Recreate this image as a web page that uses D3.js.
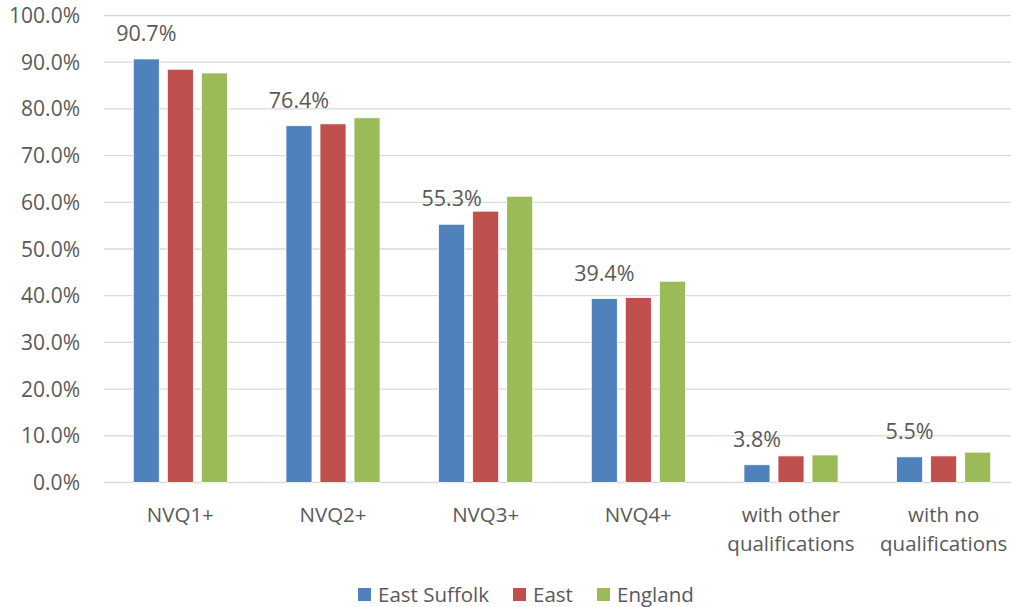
<!doctype html>
<html>
<head>
  <meta charset="utf-8">
  <style>
    body { margin: 0; background: #fff; }
    svg text { font-family: "Open Sans", "Liberation Sans", sans-serif; fill: #595959; }
    .grid line { stroke: #d9d9d9; stroke-width: 1.3; }
  </style>
</head>
<body>
<svg width="1011" height="607"></svg>
<script src="https://d3js.org/d3.v7.min.js"></script>
<script>
  var categories = [["NVQ1+"], ["NVQ2+"], ["NVQ3+"], ["NVQ4+"], ["with other", "qualifications"], ["with no", "qualifications"]];
  var seriesNames = ["East Suffolk", "East", "England"];
  var eastSuffolk = [90.7, 76.4, 55.3, 39.4, 3.8, 5.5];
  var east = [88.5, 76.8, 58.1, 39.6, 5.7, 5.7];
  var england = [87.7, 78.1, 61.3, 43.1, 5.9, 6.5];
  var yTicks = [0, 10, 20, 30, 40, 50, 60, 70, 80, 90, 100];
  var colors = ["#4f81bd", "#c0504d", "#9bbb59"];

  var values = [eastSuffolk, east, england];
  var svg = d3.select("svg");

  var plotLeft = 104, plotRight = 1020, plotTop = 15.5, plotBottom = 482.5;

  var x0 = d3.scaleBand().domain(d3.range(categories.length)).range([plotLeft, plotRight]);
  var x1 = d3.scaleBand().domain(d3.range(seriesNames.length))
    .range([0, x0.bandwidth()]).paddingInner(0.235).paddingOuter(0.86);
  var y = d3.scaleLinear().domain([0, 100]).range([plotBottom, plotTop]);

  // gridlines
  svg.append("g").attr("class", "grid")
    .selectAll("line").data(yTicks).enter().append("line")
    .attr("x1", plotLeft).attr("x2", plotRight)
    .attr("y1", (d) => y(d)).attr("y2", (d) => y(d));

  // y axis labels
  svg.append("g").selectAll("text").data(yTicks).enter().append("text")
    .attr("x", 80).attr("y", (d) => y(d) + 7.5)
    .attr("text-anchor", "end").style("font-size", "21px")
    .text((d) => d3.format(".1f")(d) + "%");

  // bars
  var groups = svg.append("g").selectAll("g").data(values).enter().append("g")
    .attr("fill", (d, i) => colors[i]);

  groups.each(function (series, si) {
    d3.select(this).selectAll("rect").data(series).enter().append("rect")
      .attr("x", (d, ci) => x0(ci) + x1(si))
      .attr("width", x1.bandwidth())
      .attr("y", (d) => y(d))
      .attr("height", (d) => y(0) - y(d))
      .attr("stroke", "#fff").attr("stroke-width", 0.8);
  });

  // data labels (East Suffolk only)
  svg.append("g").selectAll("text").data(eastSuffolk).enter().append("text")
    .attr("x", (d, ci) => x0(ci) + x1(0) + x1.bandwidth() / 2)
    .attr("y", (d) => y(d) - 18)
    .attr("text-anchor", "middle").style("font-size", "21.5px")
    .text((d) => d3.format(".1f")(d) + "%");

  // category labels
  var catLabels = svg.append("g").selectAll("text").data(categories).enter().append("text")
    .attr("text-anchor", "middle").style("font-size", "20.5px")
    .attr("x", (d, ci) => x0(ci) + x0.bandwidth() / 2)
    .attr("y", 522);
  catLabels.selectAll("tspan").data((d) => d).enter().append("tspan")
    .attr("x", function () { return d3.select(this.parentNode).attr("x"); })
    .attr("dy", (d, i) => i === 0 ? 0 : 29)
    .text((d) => d);

  // legend
  var legendX = [358, 513, 597];
  var legend = svg.append("g").selectAll("g").data(seriesNames).enter().append("g")
    .attr("transform", (d, i) => `translate(${legendX[i]},595)`);
  legend.append("rect").attr("x", 0).attr("y", -7).attr("width", 13).attr("height", 13)
    .attr("fill", (d, i) => colors[i]);
  legend.append("text").attr("x", 20).attr("y", 7).style("font-size", "20.5px")
    .text((d) => d);
</script>
</body>
</html>
